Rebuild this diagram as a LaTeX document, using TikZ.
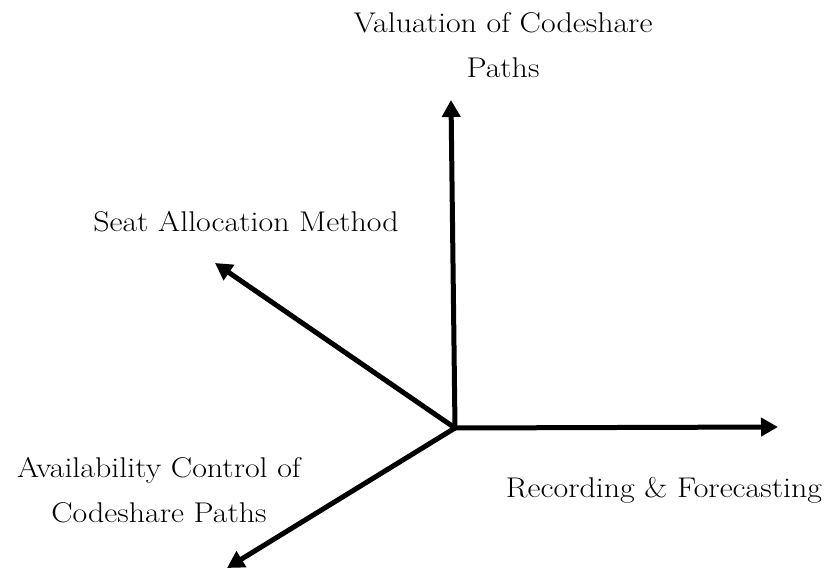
\documentclass[tikz,border=0pt]{standalone}
\usetikzlibrary{arrows.meta}
\begin{document}
\begin{tikzpicture}[x=1pt,y=-1pt,
  axis/.style={line width=5pt,-{Triangle[length=17pt,width=18pt]}},
  lbl/.style={font=\fontsize{28.5}{32}\selectfont,inner sep=0pt,anchor=base,align=center,
    xscale=1.12,transform shape}]
\useasboundingbox (0,0) rectangle (832,569);
% common origin of the four axes
\coordinate (O) at (455,428);
\coordinate (up) at (451,100);
\coordinate (rt) at (778,427);
\coordinate (ul) at (215,263);
\coordinate (ll) at (227,568);
\draw[axis] (O) -- (up);
\draw[axis] (O) -- (rt);
\draw[axis] (O) -- (ul);
\draw[axis] (O) -- (ll);
% axis labels
\node[lbl] (val1) at (503,33) {Valuation of Codeshare};
\node[lbl] (val2) at (503,78) {Paths};
\node[lbl] (seat) at (246,232) {Seat Allocation Method};
\node[lbl] (av1) at (159,477) {Availability Control of};
\node[lbl] (av2) at (159,522) {Codeshare Paths};
\node[lbl] (rec) at (664,497) {Recording \& Forecasting};
\end{tikzpicture}
\end{document}
